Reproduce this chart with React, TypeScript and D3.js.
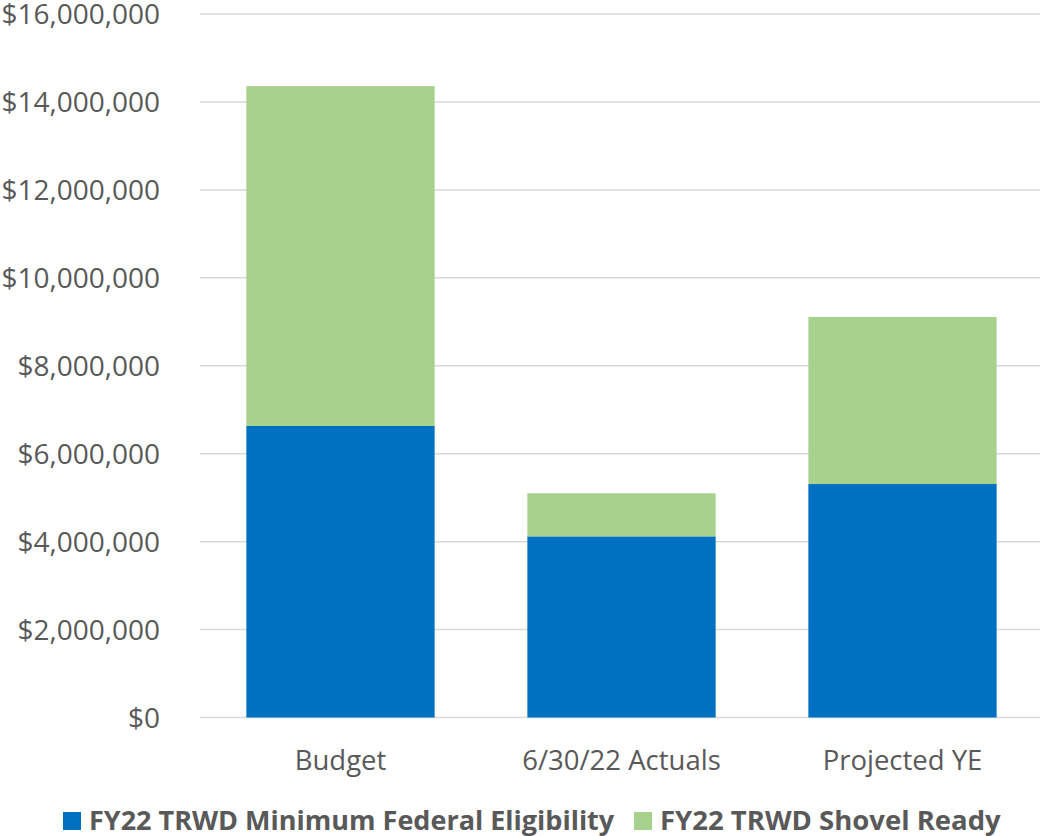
import React from "react";
import * as d3 from "d3";

const categories = ["Budget", "6/30/22 Actuals", "Projected YE"];
const federalEligibility = [6630000, 4120000, 5310000];
const shovelReady = [7730000, 980000, 3800000];
const seriesNames = ["FY22 TRWD Minimum Federal Eligibility", "FY22 TRWD Shovel Ready"];
const seriesColors = ["#0070C0", "#A9D18E"];
const yTicks = [0, 2000000, 4000000, 6000000, 8000000, 10000000, 12000000, 14000000, 16000000];

const W = 1040;
const H = 836;
const FONT = "'Open Sans', sans-serif";

export default function App() {
  const x = d3.scaleBand<string>().domain(categories).range([200, 1043]).paddingInner(0.33).paddingOuter(0.165);
  const y = d3.scaleLinear().domain([0, 16000000]).range([717.5, 14]);
  const fmt = (v: number) => "$" + d3.format(",")(v);

  const data = categories.map((c, i) => ({ cat: c, a: federalEligibility[i], b: shovelReady[i] }));
  const stack = d3.stack<any>().keys(["a", "b"])(data);

  return (
    <svg width={W} height={H} style={{ position: "absolute", left: 0, top: 0, background: "#fff" }}>
      <g>
        {yTicks.map((t) => (
          <line key={"g" + t} x1={200} x2={1040} y1={y(t)} y2={y(t)} stroke="#D9D9D9" strokeWidth={1.5} />
        ))}
        {yTicks.map((t) => (
          <text key={"t" + t} x={160} y={y(t)} dy="0.36em" textAnchor="end" fontFamily={FONT} fontSize={28} fill="#595959">
            {fmt(t)}
          </text>
        ))}
      </g>
      <g>
        {stack.map((s, si) =>
          s.map((d, i) => (
            <rect
              key={si + "-" + i}
              x={x(categories[i])}
              width={x.bandwidth()}
              y={y(d[1])}
              height={y(d[0]) - y(d[1])}
              fill={seriesColors[si]}
            />
          ))
        )}
      </g>
      <g>
        {categories.map((c) => (
          <text key={c} x={(x(c) as number) + x.bandwidth() / 2} y={770} textAnchor="middle" fontFamily={FONT} fontSize={27.5} fill="#595959">
            {c}
          </text>
        ))}
      </g>
      <g>
        <rect x={63} y={812} width={18} height={18} fill={seriesColors[0]} />
        <text x={89} y={830} fontFamily={FONT} fontSize={27} fontWeight="bold" fill="#595959">{seriesNames[0]}</text>
        <rect x={634} y={812} width={18} height={18} fill={seriesColors[1]} />
        <text x={660} y={830} fontFamily={FONT} fontSize={27.5} fontWeight="bold" fill="#595959">{seriesNames[1]}</text>
      </g>
    </svg>
  );
}
